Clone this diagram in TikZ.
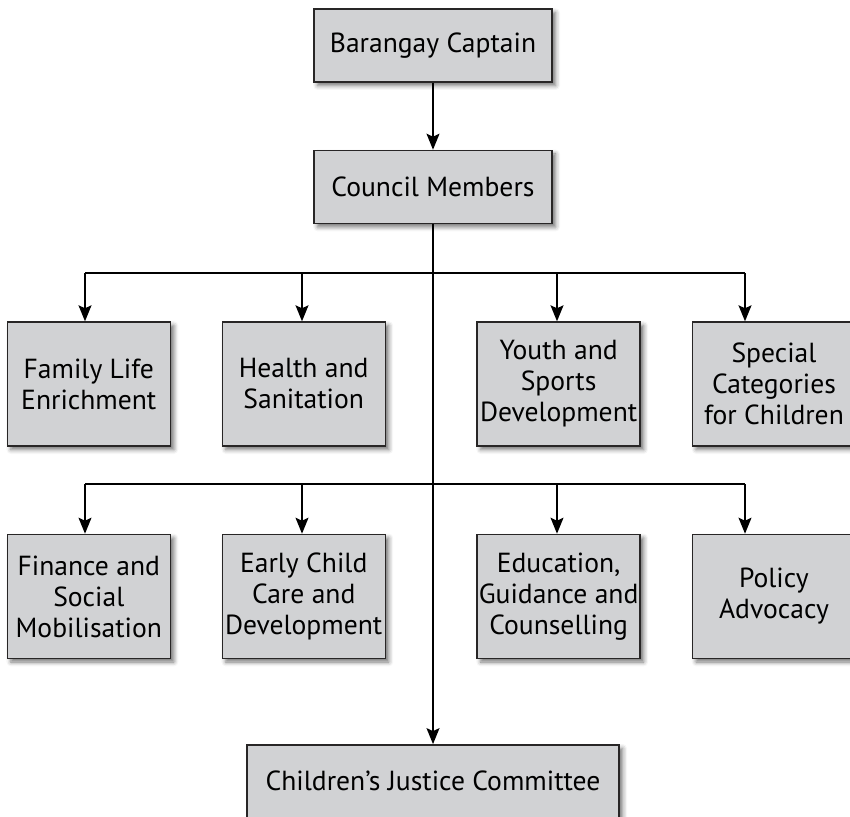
\documentclass[tikz,border=0pt]{standalone}
\usepackage{fontspec}
\setmainfont{PT Sans}
\usepackage{xcolor}
\usetikzlibrary{positioning, arrows.meta, shadows.blur}
\definecolor{boxgray}{RGB}{209,210,212}
\definecolor{edgegray}{RGB}{40,38,38}
\tikzstyle{box} = [rectangle, minimum width=81.5pt, minimum height=62pt, inner sep=0pt, text centered, align=center, draw=edgegray, line width=0.7pt, fill=boxgray, font=\fontsize{13.8}{15.5}\selectfont, blur shadow={shadow xshift=1.8pt, shadow yshift=-1.8pt, shadow blur radius=2.2pt, shadow opacity=55}]
\tikzstyle{widebox} = [box, minimum width=119pt, minimum height=36.5pt]
\tikzstyle{arrow} = [line width=0.65pt, ->, >={Stealth[length=8pt, width=6.5pt, inset=1.5pt]}]
\tikzstyle{bar} = [line width=0.65pt]

\begin{document}
\begin{tikzpicture}
		\useasboundingbox (0,0) rectangle (425pt,-408.5pt);
		\node[widebox] (captain) at (216.5pt,-22.75pt) {Barangay Captain};
		\node[widebox, below=33.5pt of captain] (council) {Council Members};

		% first row
		\node[box] (family) at (44.4pt,-192pt) {Family Life\\Enrichment};
		\node[box, right=25.25pt of family] (health) {Health and\\Sanitation};
		\node[box, right=45.25pt of health] (youth) {Youth and\\Sports\\Development};
		\node[box, right=25.5pt of youth] (special) {Special\\Categories\\for Children};

		% second row
		\node[box, below=43.5pt of family] (finance) {Finance and\\Social\\Mobilisation};
		\node[box, below=43.5pt of health] (earlychild) {Early Child\\Care and\\Development};
		\node[box, below=43.5pt of youth] (education) {Education,\\Guidance and\\Counselling};
		\node[box, below=43.5pt of special] (policy) {Policy\\Advocacy};

		\node[widebox, minimum width=186pt, below=260pt of council] (justice) {Children's Justice Committee};

		\coordinate (top1) at (42.5pt,-136.5pt);
		\coordinate (top2) at (151pt,-136.5pt);
		\coordinate (top3) at (278.5pt,-136.5pt);
		\coordinate (top4) at (372.5pt,-136.5pt);
		\coordinate (low1) at (42.5pt,-242pt);
		\coordinate (low2) at (151pt,-242pt);
		\coordinate (low3) at (278.5pt,-242pt);
		\coordinate (low4) at (372.5pt,-242pt);

		\draw[arrow] (captain) -- (council);
		\draw[arrow] (council) -- (justice);
		\draw[bar] (top1) -- (top4);
		\draw[bar] (low1) -- (low4);
		\draw[arrow] (top1) -- (top1 |- family.north);
		\draw[arrow] (top2) -- (top2 |- health.north);
		\draw[arrow] (top3) -- (top3 |- youth.north);
		\draw[arrow] (top4) -- (top4 |- special.north);
		\draw[arrow] (low1) -- (low1 |- finance.north);
		\draw[arrow] (low2) -- (low2 |- earlychild.north);
		\draw[arrow] (low3) -- (low3 |- education.north);
		\draw[arrow] (low4) -- (low4 |- policy.north);
	\end{tikzpicture}
\end{document}
